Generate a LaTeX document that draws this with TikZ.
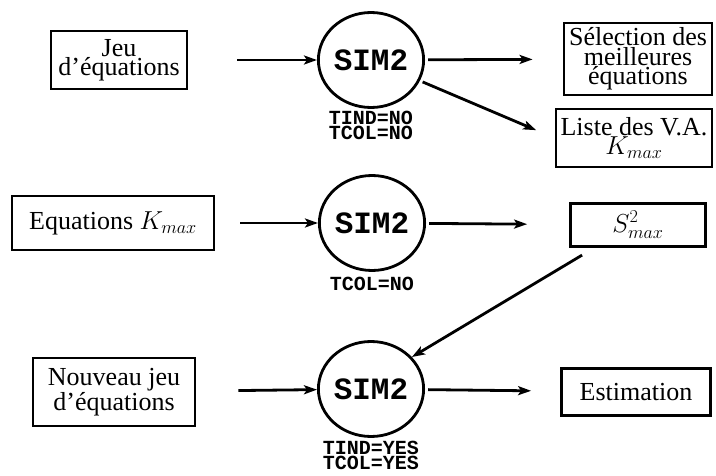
\RequirePackage{fix-cm}
\documentclass[tikz,border=0pt]{standalone}
\usepackage{fontspec}
\setmainfont{Liberation Serif}
\setmonofont{Liberation Mono}
\usetikzlibrary{positioning,arrows.meta,shapes.geometric}

\begin{document}
\begin{tikzpicture}[
  x=1pt, y=1pt,
  eqbox/.style={draw, rectangle, line width=2.8pt, align=center, inner sep=0pt,
                font=\fontsize{26}{19}\selectfont},
  tightbox/.style={eqbox, font=\fontsize{26}{14.5}\selectfont},
  sim/.style={draw, ellipse, line width=2.8pt, minimum width=104pt, minimum height=95pt,
              inner sep=0pt, font=\ttfamily\bfseries\fontsize{31}{31}\selectfont},
  flag/.style={inner sep=0pt, align=center, font=\ttfamily\bfseries\fontsize{20}{15}\selectfont},
  arr/.style={-{Stealth[length=13pt, width=9pt, inset=3pt]}, line width=2.8pt}
]
\useasboundingbox (0,0) rectangle (716,-476);
% ----- first run: TIND=NO, TCOL=NO -----
\node[eqbox, minimum width=136pt, minimum height=58pt] (jeu) at (119,-60) {Jeu\\d'équations};
\node[sim] (sim1) at (371,-60) {SIM2};
\node[flag, below=2pt of sim1] (flag1) {TIND=NO\\TCOL=NO};
\node[tightbox, minimum width=148pt, minimum height=72pt] (sel) at (638,-59) {Sélection des\\meilleures\\équations};
\node[eqbox, minimum width=156pt, minimum height=58pt] (liste) at (634,-138) {Liste des V.A.\\$K_{max}$};
\draw[arr, shorten <=49pt] (jeu) -- (sim1);
\draw[arr, shorten <=3pt, shorten >=30pt] (sim1) -- (sel);
\draw[arr, shorten <=3pt, shorten >=20pt] (sim1) -- (liste.west);
% ----- second run: TCOL=NO -----
\node[eqbox, minimum width=202pt, minimum height=54pt] (eqk) at (113,-223) {Equations $K_{max}$};
\node[sim] (sim2) at (372,-223) {SIM2};
\node[flag, below=5pt of sim2] (flag2) {TCOL=NO};
\node[eqbox, minimum width=135pt, minimum height=43pt] (smax) at (638,-225) {$S^2_{max}$};
\draw[arr, shorten <=25pt] (eqk) -- (sim2);
\draw[arr, shorten <=3pt, shorten >=42pt] (sim2) -- (smax);
% ----- third run: TIND=YES, TCOL=YES -----
\node[eqbox, minimum width=162pt, minimum height=68pt] (nouv) at (114,-392) {Nouveau jeu\\d'équations};
\node[sim] (sim3) at (371,-389) {SIM2};
\node[flag, below=3pt of sim3] (flag3) {TIND=YES\\TCOL=YES};
\node[eqbox, minimum width=149pt, minimum height=47pt] (est) at (636,-392) {Estimation};
\draw[arr, shorten <=42pt] (nouv) -- (sim3);
\draw[arr, shorten <=3pt, shorten >=29pt] (sim3) -- (est);
\draw[arr, shorten <=14pt] ([xshift=25pt]smax.south west) -- (sim3.38);
\end{tikzpicture}
\end{document}
